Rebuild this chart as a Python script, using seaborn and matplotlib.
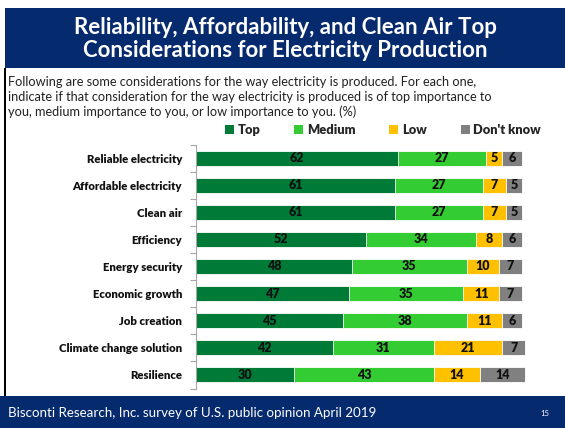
import numpy as np
import pandas as pd
import matplotlib
matplotlib.use('Agg')
import matplotlib.pyplot as plt
from matplotlib.patches import Rectangle, Patch
from matplotlib.ticker import FixedLocator
import seaborn as sns

# Données (%)
categories = ['Reliable electricity', 'Affordable electricity', 'Clean air', 'Efficiency',
              'Energy security', 'Economic growth', 'Job creation',
              'Climate change solution', 'Resilience']
top = [62, 61, 61, 52, 48, 47, 45, 42, 30]
medium = [27, 27, 27, 34, 35, 35, 38, 31, 43]
low = [5, 7, 7, 8, 10, 11, 11, 21, 14]
dont_know = [6, 5, 5, 6, 7, 7, 6, 7, 14]

series_names = ['Top', 'Medium', 'Low', "Don't know"]
colors = ['#007A37', '#33CC33', '#FFC000', '#808080']
navy = '#062A6E'

sns.set_theme(style='white')
plt.rcParams['font.family'] = ['Lato', 'DejaVu Sans']

df = pd.DataFrame({'cat': categories, 'Top': top, 'Medium': medium,
                   'Low': low, "Don't know": dont_know})
cums = df[series_names].cumsum(axis=1)

fig = plt.figure(figsize=(5.65, 4.28), dpi=100)
fig.patch.set_facecolor('white')

# bandeaux
fig.patches.append(Rectangle((5/565, 1 - 68/428), 1, 60/428, transform=fig.transFigure,
                             facecolor=navy, edgecolor='none', zorder=0))
fig.patches.append(Rectangle((0, 0), 1, 32/428, transform=fig.transFigure,
                             facecolor=navy, edgecolor='none', zorder=0))
fig.patches.append(Rectangle((4/565, 32/428), 2/565, (396 - 68) / 428, transform=fig.transFigure,
                             facecolor='black', edgecolor='none', zorder=0))

fig.text(0.505, 1 - 39/428, 'Reliability, Affordability, and Clean Air Top\nConsiderations for Electricity Production',
         ha='center', va='center', color='white', fontsize=16, fontweight='bold', linespacing=1.1)

fig.text(8/565, 1 - 97/428,
         'Following are some considerations for the way electricity is produced. For each one,\n'
         'indicate if that consideration for the way electricity is produced is of top importance to\n'
         'you, medium importance to you, or low importance to you. (%)',
         ha='left', va='center', color='#222222', fontsize=9.2, linespacing=1.25)

fig.text(8/565, 1 - 413/428, 'Bisconti Research, Inc. survey of U.S. public opinion April 2019',
         ha='left', va='center', color='white', fontsize=9.6)
fig.text(545/565, 1 - 413/428, '15', ha='center', va='center', color='white', fontsize=5.5)

ax = fig.add_axes([196/565, 1 - 388.5/428, 340/565, 244/428])

# barres empilées : on dessine les cumuls du plus long au plus court
for name, col in reversed(list(zip(series_names, colors))):
    sns.barplot(x=cums[name], y=df['cat'], orient='h', color=col, width=0.55,
                saturation=1, ax=ax, linewidth=0.6, edgecolor='white')

for i in range(len(categories)):
    left = 0
    for name in series_names:
        v = df.loc[i, name]
        ax.text(left + v / 2, i, str(v), ha='center', va='center',
                fontsize=9, fontweight='heavy', color='#111111')
        left += v

ax.set_xlim(0, 104.3)
ax.set_ylim(len(categories) - 0.5, -0.5)
ax.set_xlabel('')
ax.set_ylabel('')
ax.set_xticks([])
for s in ['top', 'right', 'bottom']:
    ax.spines[s].set_visible(False)
ax.spines['left'].set_color('#A6A6A6')
ax.spines['left'].set_linewidth(0.8)
ax.tick_params(axis='y', which='major', length=0, pad=10, labelsize=8.2)
for lab in ax.get_yticklabels():
    lab.set_fontweight('heavy')
    lab.set_color('#111111')
ax.yaxis.set_minor_locator(FixedLocator(np.arange(-0.5, len(categories), 1.0)))
ax.tick_params(axis='y', which='minor', left=True, length=4, width=0.8, color='#A6A6A6')

handles = [Patch(facecolor=c, edgecolor='none') for c in colors]
leg = fig.legend(handles, series_names, loc='center', bbox_to_anchor=(383/565, 1 - 130/428),
                 ncol=4, frameon=False, handlelength=0.7, handleheight=0.7,
                 handletextpad=0.3, columnspacing=2.6,
                 prop={'size': 9.3, 'weight': 'heavy'})

fig.savefig('out.png', dpi=100)
